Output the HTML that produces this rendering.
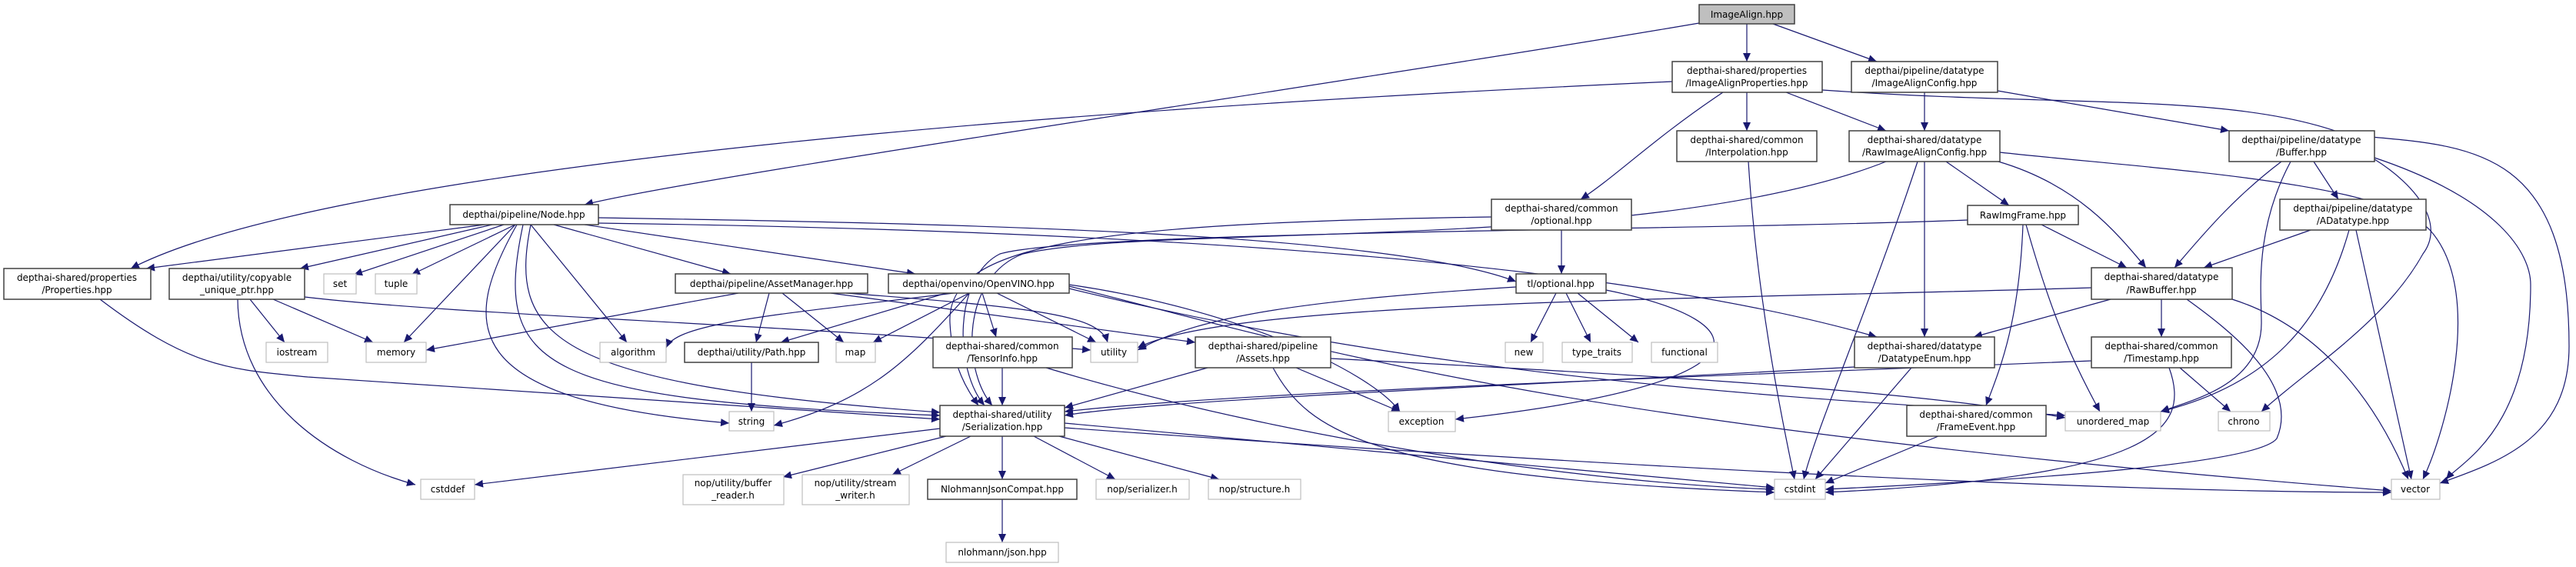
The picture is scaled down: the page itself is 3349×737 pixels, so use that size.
<!DOCTYPE html>
<html><head><meta charset="utf-8"><style>
html,body{margin:0;padding:0;background:#fff;}
svg{display:block;}
text{font-family:"DejaVu Sans","Liberation Sans",sans-serif;font-size:12px;fill:#000;text-anchor:middle;}
.n{fill:#fff;stroke:#404040;stroke-width:1.5;}
.l{fill:#fff;stroke:#bfbfbf;stroke-width:1.2;}
.g{fill:#bfbfbf;stroke:#404040;stroke-width:1.5;}
path.e{fill:none;stroke:#191970;stroke-width:1.2;marker-end:url(#a);}
</style></head><body>
<svg width="3349" height="737" viewBox="0 0 3349 737" xmlns="http://www.w3.org/2000/svg">
<defs><marker id="a" markerUnits="userSpaceOnUse" markerWidth="12" markerHeight="10" refX="11" refY="5" orient="auto"><path d="M0,0 L11,5 L0,10 z" fill="#191970"/></marker></defs>
<g>
<path class="e" d="M2209,30 C1800,100 900,230 760,266"/>
<path class="e" d="M2271,31 L2271,80"/>
<path class="e" d="M2305,31 L2440,80"/>
<path class="e" d="M2174,106 C1200,150 400,230 170,349"/>
<path class="e" d="M2240,120 C2150,180 2100,230 2055,259"/>
<path class="e" d="M2271,120 L2271,170"/>
<path class="e" d="M2322,120 L2452,170"/>
<path class="e" d="M2369,117 C2700,140 2900,120 3050,175 C3200,190 3340,180 3340,450 C3340,570 3250,600 3172,628"/>
<path class="e" d="M2502,120 L2502,170"/>
<path class="e" d="M2597,118 L2898,170"/>
<path class="e" d="M2273,210 C2285,400 2320,560 2333,623"/>
<path class="e" d="M2452,210 C2150,330 1500,290 1330,330 C1250,360 1250,480 1290,527"/>
<path class="e" d="M2493,210 C2430,400 2360,560 2345,623"/>
<path class="e" d="M2502,210 L2502,438"/>
<path class="e" d="M2530,210 L2612,267"/>
<path class="e" d="M2598,210 C2700,240 2750,300 2790,348"/>
<path class="e" d="M2600,198 C2800,220 3100,235 3160,300 C3230,380 3180,560 3150,623"/>
<path class="e" d="M2030,299 L2030,356"/>
<path class="e" d="M1939,282 C1400,290 1230,320 1235,420 C1238,480 1260,510 1272,527"/>
<path class="e" d="M2966,210 C2900,260 2860,310 2827,348"/>
<path class="e" d="M3008,210 L3040,259"/>
<path class="e" d="M2978,210 C2930,300 2940,380 2940,420 C2940,500 2850,520 2809,535"/>
<path class="e" d="M3087,207 C3140,240 3180,290 3150,330 C3100,420 3000,480 2940,535"/>
<path class="e" d="M3087,205 C3250,260 3290,330 3290,370 C3290,560 3200,600 3180,623"/>
<path class="e" d="M3004,299 L2865,348"/>
<path class="e" d="M3054,299 C3020,420 2950,500 2809,535"/>
<path class="e" d="M3063,299 L3135,623"/>
<path class="e" d="M2654,292 L2765,348"/>
<path class="e" d="M2630,292 C2625,420 2600,480 2582,527"/>
<path class="e" d="M2634,292 C2670,420 2700,480 2730,535"/>
<path class="e" d="M2558,286 C2200,300 1400,300 1300,330 C1240,360 1240,480 1280,527"/>
<path class="e" d="M2719,374 C2200,390 1600,390 1479,452"/>
<path class="e" d="M2744,389 L2566,438"/>
<path class="e" d="M2810,389 L2810,438"/>
<path class="e" d="M2843,389 C2900,430 2990,500 2960,570 C2930,610 2500,630 2373,636"/>
<path class="e" d="M2902,389 C3000,420 3080,500 3131,623"/>
<path class="e" d="M2834,478 L2900,535"/>
<path class="e" d="M2820,478 C2850,560 2800,620 2373,640"/>
<path class="e" d="M2719,469 C2200,490 1600,510 1384,535"/>
<path class="e" d="M2485,478 L2360,623"/>
<path class="e" d="M2411,477 C2000,500 1500,520 1384,540"/>
<path class="e" d="M2520,567 L2373,628"/>
<path class="e" d="M630,292 L190,349"/>
<path class="e" d="M640,292 L390,349"/>
<path class="e" d="M655,292 L460,357"/>
<path class="e" d="M670,292 L535,357"/>
<path class="e" d="M670,292 L525,445"/>
<path class="e" d="M672,292 C600,420 590,520 948,550"/>
<path class="e" d="M690,292 L815,445"/>
<path class="e" d="M720,292 L950,356"/>
<path class="e" d="M760,292 L1190,356"/>
<path class="e" d="M778,283 C1200,290 1800,300 1971,366"/>
<path class="e" d="M778,290 C1500,300 2100,340 2440,438"/>
<path class="e" d="M680,292 C640,480 700,520 1222,540"/>
<path class="e" d="M690,292 C660,440 720,500 1222,536"/>
<path class="e" d="M325,389 L370,445"/>
<path class="e" d="M355,389 L485,445"/>
<path class="e" d="M309,389 C310,520 430,600 540,630"/>
<path class="e" d="M396,386 C600,410 1000,420 1418,455"/>
<path class="e" d="M130,389 C250,480 300,480 400,490 L1222,545"/>
<path class="e" d="M960,381 L554,455"/>
<path class="e" d="M1000,381 L983,445"/>
<path class="e" d="M1017,381 L1097,445"/>
<path class="e" d="M1080,381 L1554,445"/>
<path class="e" d="M1100,381 C1350,400 1430,410 1440,445"/>
<path class="e" d="M1240,381 C1000,410 880,420 866,452"/>
<path class="e" d="M1230,381 L1015,445"/>
<path class="e" d="M1260,381 L1135,445"/>
<path class="e" d="M1277,381 L1295,438"/>
<path class="e" d="M1296,381 L1425,445"/>
<path class="e" d="M1260,381 C1180,470 1130,520 1006,553"/>
<path class="e" d="M1390,370 C1600,400 1780,480 1820,535"/>
<path class="e" d="M1390,375 C1900,500 2400,520 2685,540"/>
<path class="e" d="M1390,372 C1700,450 2000,550 3109,638"/>
<path class="e" d="M977,471 L977,535"/>
<path class="e" d="M1303,478 L1303,527"/>
<path class="e" d="M1360,478 C1700,580 2100,630 2307,636"/>
<path class="e" d="M1570,478 L1384,530"/>
<path class="e" d="M1685,478 L1820,535"/>
<path class="e" d="M1655,478 C1700,560 1780,620 2307,640"/>
<path class="e" d="M1730,466 C2200,490 2500,510 2685,543"/>
<path class="e" d="M1971,373 C1700,390 1560,410 1479,455"/>
<path class="e" d="M2023,381 L1990,445"/>
<path class="e" d="M2036,381 L2068,445"/>
<path class="e" d="M2051,381 L2130,445"/>
<path class="e" d="M2088,377 C2300,420 2300,500 1892,545"/>
<path class="e" d="M1222,557 L617,630"/>
<path class="e" d="M1230,567 L1018,620"/>
<path class="e" d="M1262,567 L1160,617"/>
<path class="e" d="M1303,567 L1303,623"/>
<path class="e" d="M1344,567 L1450,623"/>
<path class="e" d="M1377,567 L1585,623"/>
<path class="e" d="M1384,550 L2307,634"/>
<path class="e" d="M1384,556 C2000,600 2700,640 3109,640"/>
<path class="e" d="M1303,649 L1303,705"/>
</g>
<g>
<rect class="g" x="2209" y="6" width="124" height="25"/><text x="2271" y="23">ImageAlign.hpp</text>
<rect class="n" x="2174" y="80" width="195" height="40"/><text x="2271" y="96">depthai-shared/properties</text><text x="2271" y="112">/ImageAlignProperties.hpp</text>
<rect class="n" x="2407" y="80" width="190" height="40"/><text x="2502" y="96">depthai/pipeline/datatype</text><text x="2502" y="112">/ImageAlignConfig.hpp</text>
<rect class="n" x="2180" y="170" width="182" height="40"/><text x="2271" y="186">depthai-shared/common</text><text x="2271" y="202">/Interpolation.hpp</text>
<rect class="n" x="2404" y="170" width="196" height="40"/><text x="2502" y="186">depthai-shared/datatype</text><text x="2502" y="202">/RawImageAlignConfig.hpp</text>
<rect class="n" x="2898" y="170" width="189" height="40"/><text x="2992" y="186">depthai/pipeline/datatype</text><text x="2992" y="202">/Buffer.hpp</text>
<rect class="n" x="585" y="266" width="193" height="26"/><text x="681" y="283">depthai/pipeline/Node.hpp</text>
<rect class="n" x="1939" y="259" width="182" height="40"/><text x="2030" y="275">depthai-shared/common</text><text x="2030" y="291">/optional.hpp</text>
<rect class="n" x="2558" y="267" width="144" height="25"/><text x="2630" y="284">RawImgFrame.hpp</text>
<rect class="n" x="2964" y="259" width="190" height="40"/><text x="3059" y="275">depthai/pipeline/datatype</text><text x="3059" y="291">/ADatatype.hpp</text>
<rect class="n" x="5" y="349" width="191" height="40"/><text x="100" y="365">depthai-shared/properties</text><text x="100" y="381">/Properties.hpp</text>
<rect class="n" x="220" y="349" width="176" height="40"/><text x="308" y="365">depthai/utility/copyable</text><text x="308" y="381">_unique_ptr.hpp</text>
<rect class="l" x="421" y="356" width="42" height="26"/><text x="442" y="373">set</text>
<rect class="l" x="488" y="356" width="54" height="26"/><text x="515" y="373">tuple</text>
<rect class="n" x="878" y="356" width="250" height="25"/><text x="1003" y="373">depthai/pipeline/AssetManager.hpp</text>
<rect class="n" x="1155" y="356" width="235" height="25"/><text x="1272" y="373">depthai/openvino/OpenVINO.hpp</text>
<rect class="n" x="1971" y="356" width="117" height="25"/><text x="2029" y="373">tl/optional.hpp</text>
<rect class="n" x="2719" y="348" width="183" height="41"/><text x="2810" y="364">depthai-shared/datatype</text><text x="2810" y="381">/RawBuffer.hpp</text>
<rect class="l" x="346" y="445" width="80" height="26"/><text x="386" y="462">iostream</text>
<rect class="l" x="476" y="445" width="78" height="26"/><text x="515" y="462">memory</text>
<rect class="l" x="780" y="445" width="86" height="26"/><text x="823" y="462">algorithm</text>
<rect class="n" x="890" y="445" width="174" height="26"/><text x="977" y="462">depthai/utility/Path.hpp</text>
<rect class="l" x="1087" y="445" width="51" height="26"/><text x="1112" y="462">map</text>
<rect class="n" x="1213" y="438" width="181" height="40"/><text x="1303" y="454">depthai-shared/common</text><text x="1303" y="470">/TensorInfo.hpp</text>
<rect class="l" x="1418" y="445" width="61" height="26"/><text x="1448" y="462">utility</text>
<rect class="n" x="1554" y="438" width="176" height="40"/><text x="1642" y="454">depthai-shared/pipeline</text><text x="1642" y="470">/Assets.hpp</text>
<rect class="l" x="1957" y="445" width="49" height="26"/><text x="1981" y="462">new</text>
<rect class="l" x="2031" y="445" width="91" height="26"/><text x="2076" y="462">type_traits</text>
<rect class="l" x="2147" y="445" width="86" height="26"/><text x="2190" y="462">functional</text>
<rect class="n" x="2411" y="438" width="182" height="40"/><text x="2502" y="454">depthai-shared/datatype</text><text x="2502" y="470">/DatatypeEnum.hpp</text>
<rect class="n" x="2719" y="438" width="182" height="40"/><text x="2810" y="454">depthai-shared/common</text><text x="2810" y="470">/Timestamp.hpp</text>
<rect class="l" x="948" y="535" width="58" height="25"/><text x="977" y="552">string</text>
<rect class="l" x="1805" y="535" width="87" height="26"/><text x="1848" y="552">exception</text>
<rect class="n" x="2479" y="527" width="181" height="40"/><text x="2569" y="543">depthai-shared/common</text><text x="2569" y="559">/FrameEvent.hpp</text>
<rect class="l" x="2685" y="535" width="124" height="25"/><text x="2747" y="552">unordered_map</text>
<rect class="l" x="2884" y="535" width="67" height="25"/><text x="2917" y="552">chrono</text>
<rect class="n" x="1222" y="527" width="162" height="40"/><text x="1303" y="543">depthai-shared/utility</text><text x="1303" y="559">/Serialization.hpp</text>
<rect class="l" x="547" y="623" width="70" height="26"/><text x="582" y="640">cstddef</text>
<rect class="l" x="888" y="617" width="131" height="39"/><text x="953" y="632">nop/utility/buffer</text><text x="953" y="648">_reader.h</text>
<rect class="l" x="1043" y="617" width="139" height="39"/><text x="1112" y="632">nop/utility/stream</text><text x="1112" y="648">_writer.h</text>
<rect class="n" x="1206" y="623" width="194" height="26"/><text x="1303" y="640">NlohmannJsonCompat.hpp</text>
<rect class="l" x="1425" y="623" width="121" height="26"/><text x="1485" y="640">nop/serializer.h</text>
<rect class="l" x="1571" y="623" width="120" height="26"/><text x="1631" y="640">nop/structure.h</text>
<rect class="l" x="2307" y="623" width="66" height="26"/><text x="2340" y="640">cstdint</text>
<rect class="l" x="3109" y="623" width="63" height="26"/><text x="3140" y="640">vector</text>
<rect class="l" x="1230" y="705" width="146" height="26"/><text x="1303" y="722">nlohmann/json.hpp</text>
</g>
</svg>
</body></html>
